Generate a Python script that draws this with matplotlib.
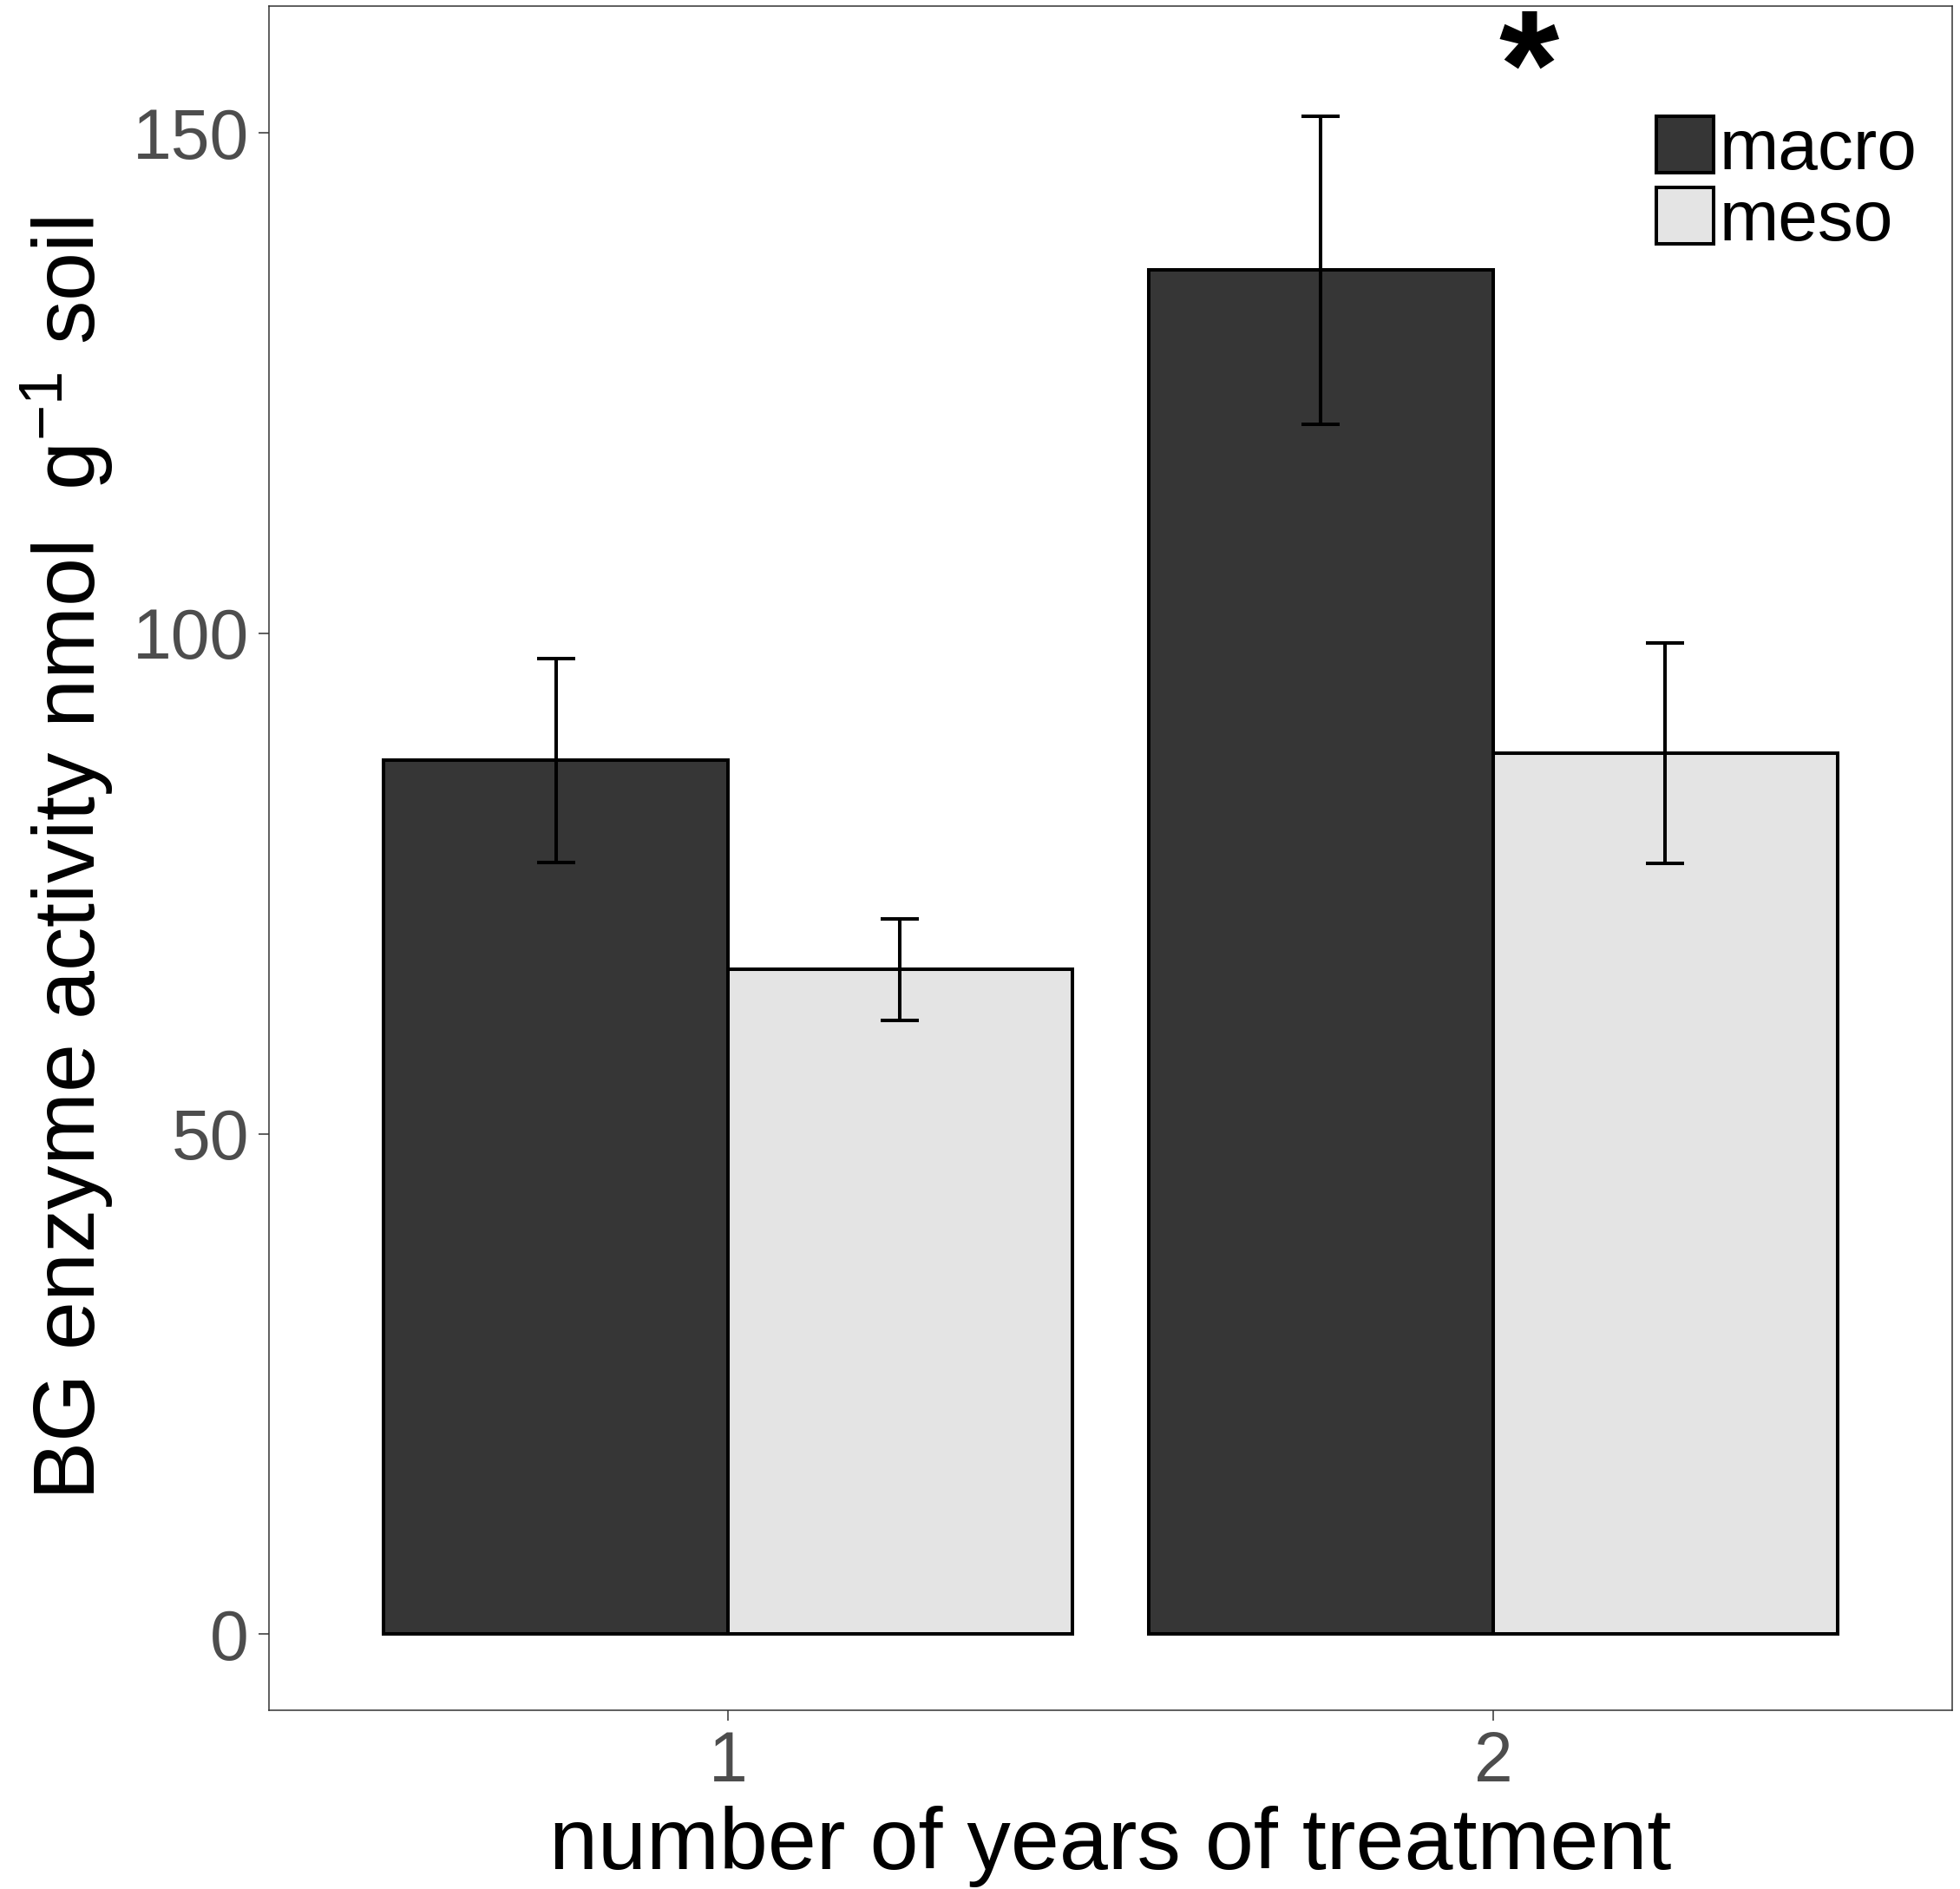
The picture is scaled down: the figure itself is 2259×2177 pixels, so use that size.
import matplotlib
matplotlib.use("Agg")
import matplotlib.pyplot as plt
import numpy as np

years = ["1", "2"]
groups = ["macro", "meso"]
macro = [87.3, 136.3]
macro_err = [10.2, 15.4]
meso = [66.4, 88.0]
meso_err = [5.1, 11.0]
colors = {"macro": "#363636", "meso": "#E4E4E4"}

plt.rcParams['font.family'] = ['Liberation Sans', 'DejaVu Sans']
plt.rcParams['mathtext.fontset'] = 'custom'
plt.rcParams['mathtext.rm'] = 'Liberation Sans'
plt.rcParams['mathtext.it'] = 'Liberation Sans'
plt.rcParams['mathtext.bf'] = 'Liberation Sans:bold'

fig = plt.figure(figsize=(22.59, 21.77), dpi=100)
ax = fig.add_axes([0.1372, 0.0946, 0.8588, 0.9022])

x = np.arange(1, len(years) + 1)
w = 0.45
for off, name, vals, errs in [(-w / 2, "macro", macro, macro_err), (w / 2, "meso", meso, meso_err)]:
    ax.bar(x + off, vals, width=w, color=colors[name], edgecolor="black", linewidth=2.9,
           label=name, zorder=2)
    ax.errorbar(x + off, vals, yerr=errs, fmt="none", ecolor="black", elinewidth=2.9,
                capsize=15.8, capthick=2.9, zorder=3)

ax.text(2.047, 151.5, "*", fontsize=128, fontweight="bold", ha="center", va="baseline")

ax.set_xlim(0.4, 2.6)
ax.set_ylim(-7.63, 162.7)
ax.set_xticks(x)
ax.set_xticklabels(years)
ax.set_yticks([0, 50, 100, 150])
ax.tick_params(axis="both", labelsize=58, labelcolor="#4D4D4D", color="#333333",
               length=8.6, width=1.1, pad=8)
for s in ax.spines.values():
    s.set_color("#333333")
    s.set_linewidth(1.1)

ax.set_xlabel("number of years of treatment", fontsize=72.5, labelpad=8)
ax.set_ylabel(r"BG enzyme activity nmol  g$^{-1}$ soil", fontsize=72.5, labelpad=14)

leg = ax.legend(loc="upper left", bbox_to_anchor=(1909 / 2259, 1 - 134 / 2177),
                bbox_transform=fig.transFigure, frameon=False, fontsize=59,
                handlelength=0.8, handleheight=0.85, handletextpad=0.08,
                labelspacing=0.05, borderpad=0, borderaxespad=0)
for h in leg.legend_handles:
    h.set_linewidth(2.9)

fig.savefig("out.png", dpi=100)
